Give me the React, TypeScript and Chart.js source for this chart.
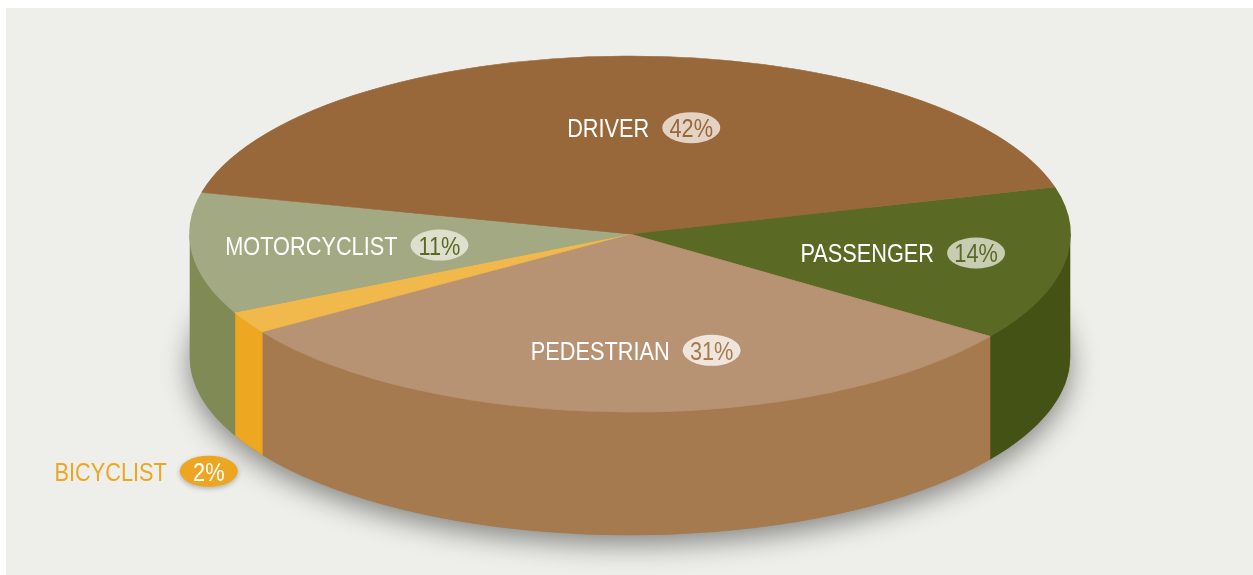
import React, { useEffect, useRef } from "react";
import { Chart, registerables } from "chart.js";

Chart.register(...registerables);

// ---- data ----
const categories = ["PASSENGER", "PEDESTRIAN", "BICYCLIST", "MOTORCYCLIST", "DRIVER"];
const values = [14, 31, 2, 11, 42];
const topColors = ["#5a6a24", "#b89373", "#f1b84c", "#a3a983", "#98673a"];
const wallColors = ["#445215", "#a57a4f", "#eda720", "#7f8a55", "#7a5129"];
const pillFills = ["#c8ccb3", "#efe5db", "#eda622", "#dedfcd", "#e4d3c3"];
const pillTextColors = ["#5a6a24", "#a57a4f", "#ffffff", "#5a6a24", "#98673a"];
const nameColors = ["#ffffff", "#ffffff", "#eda622", "#ffffff", "#ffffff"];

// ---- layout constants ----
const W = 1253;
const H = 575;
const PANEL = { x: 6, y: 8, w: 1247, h: 567, color: "#eeefea" };
const CX = 630;
const CY = 234;
const RX = 440;
const RY = 178;
const DEPTH = 123;
const ROTATION = 74.7;
const FONT = '26.5px "Liberation Sans", Arial, sans-serif';
const NARROW = 0.82;
const PILL_RX = 29;
const PILL_RY = 15.5;
const GAP = 13;
const LABEL_R = 0.62;
const CAP = 19;
// small per-label nudges (layout only), same order as categories
const LABEL_NUDGE: [number, number][] = [
  [4, 0],
  [10, 6],
  [0, 0],
  [-12, -1],
  [18, 4],
];

const TWO_PI = Math.PI * 2;

function drawWall(ctx: CanvasRenderingContext2D, a1: number, a2: number, color: string) {
  ctx.beginPath();
  ctx.ellipse(CX, CY, RX, RY, 0, a1, a2, false);
  ctx.ellipse(CX, CY + DEPTH, RX, RY, 0, a2, a1, true);
  ctx.closePath();
  ctx.fillStyle = color;
  ctx.fill();
  ctx.strokeStyle = color;
  ctx.lineWidth = 0.6;
  ctx.stroke();
}

function narrowText(ctx: CanvasRenderingContext2D, text: string, x: number, y: number, align: "left" | "center") {
  ctx.save();
  ctx.translate(x, y);
  ctx.scale(NARROW, 1);
  ctx.textAlign = align;
  ctx.textBaseline = "alphabetic";
  ctx.fillText(text, 0, 0);
  ctx.restore();
}

function drawLabel(
  ctx: CanvasRenderingContext2D,
  i: number,
  pct: string,
  anchorX: number,
  y: number,
  align: "center" | "right",
  pillShadow: boolean
) {
  ctx.font = FONT;
  const nameW = ctx.measureText(categories[i]).width * NARROW;
  const total = nameW + GAP + PILL_RX * 2;
  const x0 = align === "center" ? anchorX - total / 2 : anchorX - total;
  ctx.fillStyle = nameColors[i];
  narrowText(ctx, categories[i], x0, y + CAP / 2, "left");
  const pcx = x0 + nameW + GAP + PILL_RX;
  ctx.save();
  if (pillShadow) {
    ctx.shadowColor = "rgba(0,0,0,0.25)";
    ctx.shadowBlur = 5;
    ctx.shadowOffsetY = 2;
  }
  ctx.beginPath();
  ctx.ellipse(pcx, y, PILL_RX, PILL_RY, 0, 0, TWO_PI);
  ctx.fillStyle = pillFills[i];
  ctx.fill();
  ctx.restore();
  ctx.fillStyle = pillTextColors[i];
  narrowText(ctx, pct, pcx, y + CAP / 2, "center");
}

const pie3d = {
  id: "pie3d",
  beforeDraw(chart: any) {
    const ctx = chart.ctx as CanvasRenderingContext2D;
    ctx.save();
    ctx.fillStyle = PANEL.color;
    ctx.fillRect(PANEL.x, PANEL.y, PANEL.w, PANEL.h);
    ctx.restore();
  },
  beforeDatasetsDraw(chart: any) {
    const ctx = chart.ctx as CanvasRenderingContext2D;
    const arcs = chart.getDatasetMeta(0).data;
    // shadow under the pie
    ctx.save();
    ctx.shadowColor = "rgba(0,0,0,0.45)";
    ctx.shadowBlur = 28;
    ctx.shadowOffsetY = 9;
    ctx.fillStyle = wallColors[1];
    ctx.beginPath();
    ctx.ellipse(CX, CY + DEPTH, RX, RY, 0, 0, TWO_PI);
    ctx.fill();
    ctx.restore();
    // side walls (front half only)
    ctx.save();
    arcs.forEach((arc: any, i: number) => {
      const { startAngle, endAngle } = arc.getProps(["startAngle", "endAngle"], true);
      for (let k = -1; k <= 1; k++) {
        const lo = Math.max(startAngle, TWO_PI * k);
        const hi = Math.min(endAngle, TWO_PI * k + Math.PI);
        if (hi > lo) drawWall(ctx, lo - TWO_PI * k, hi - TWO_PI * k, wallColors[i]);
      }
    });
    ctx.restore();
    // squash the library's pie into the top ellipse
    const { x, y, outerRadius } = arcs[0].getProps(["x", "y", "outerRadius"], true);
    ctx.save();
    ctx.translate(CX, CY);
    ctx.scale(RX / outerRadius, RY / outerRadius);
    ctx.translate(-x, -y);
  },
  afterDatasetsDraw(chart: any) {
    chart.ctx.restore();
  },
  afterDraw(chart: any) {
    const ctx = chart.ctx as CanvasRenderingContext2D;
    const arcs = chart.getDatasetMeta(0).data;
    const total = values.reduce((a, b) => a + b, 0);
    ctx.save();
    arcs.forEach((arc: any, i: number) => {
      const { startAngle, endAngle } = arc.getProps(["startAngle", "endAngle"], true);
      const mid = (startAngle + endAngle) / 2;
      const share = values[i] / total;
      const pct = Math.round(share * 100) + "%";
      const [nx, ny] = LABEL_NUDGE[i];
      if (share >= 0.05) {
        const lx = CX + RX * LABEL_R * Math.cos(mid) + nx;
        const ly = CY + RY * LABEL_R * Math.sin(mid) + ny;
        drawLabel(ctx, i, pct, lx, ly, "center", false);
      } else {
        const ex = CX + RX * Math.cos(mid);
        const ey = CY + DEPTH + RY * Math.sin(mid);
        drawLabel(ctx, i, pct, ex - 10 + nx, ey + 26 + ny, "right", true);
      }
    });
    ctx.restore();
  },
};

export default function App() {
  const ref = useRef<HTMLCanvasElement | null>(null);
  useEffect(() => {
    if (!ref.current) return;
    const chart = new Chart(ref.current, {
      type: "pie",
      data: {
        labels: categories,
        datasets: [
          {
            data: values,
            backgroundColor: topColors,
            borderColor: topColors,
            borderWidth: 1,
          },
        ],
      },
      options: {
        responsive: false,
        animation: false,
        events: [],
        rotation: ROTATION,
        layout: { padding: 0 },
        plugins: {
          legend: { display: false },
          tooltip: { enabled: false },
        },
      },
      plugins: [pie3d],
    });
    return () => chart.destroy();
  }, []);
  return (
    <div style={{ position: "absolute", left: 0, top: 0, width: W, height: H }}>
      <canvas ref={ref} width={W} height={H} style={{ display: "block" }} />
    </div>
  );
}
